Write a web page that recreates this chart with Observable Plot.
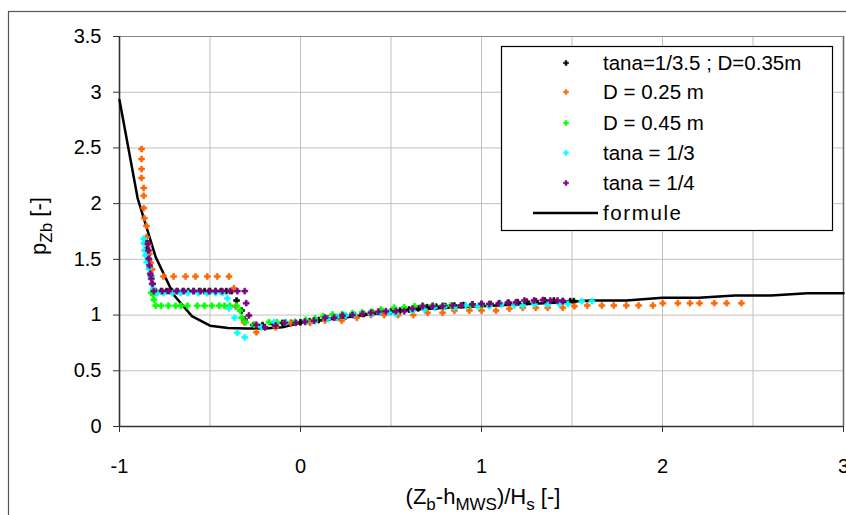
<!DOCTYPE html>
<html><head><meta charset="utf-8">
<script src="https://cdn.jsdelivr.net/npm/d3@7"></script>
<script src="https://cdn.jsdelivr.net/npm/@observablehq/plot@0.6"></script>
<style>
body{margin:0;background:#fff;}
#wrap{position:relative;width:846px;height:515px;overflow:hidden;background:#fff;}
</style></head><body><div id="wrap"></div>
<script>
// ---- data ----
const seriesNames = ["tana=1/3.5 ; D=0.35m", "D = 0.25 m", "D = 0.45 m", "tana = 1/3", "tana = 1/4"];
const seriesColors = ["#000000", "#FF6600", "#00FF00", "#00FFFF", "#800080"];

const black = [[-0.852,1.66],[-0.848,1.60],[-0.843,1.54],[-0.838,1.48],[-0.832,1.42],[-0.826,1.35],[-0.818,1.28],
[-0.80,1.215],[-0.77,1.215],[-0.74,1.215],[-0.71,1.215],[-0.68,1.215],[-0.65,1.215],[-0.62,1.215],[-0.59,1.215],[-0.56,1.215],[-0.53,1.215],[-0.50,1.215],[-0.47,1.215],[-0.44,1.215],[-0.41,1.215],[-0.38,1.215],
[-0.353,1.13],[-0.325,1.04],[-0.31,0.96],[-0.26,0.91],[-0.21,0.91],[-0.15,0.92],[-0.10,0.93],[-0.05,0.93],
[0,0.935],[0.05,0.945],[0.10,0.955],[0.15,0.97],[0.20,0.98],[0.25,0.99],[0.30,1.0],[0.35,1.01],[0.40,1.02],[0.45,1.03],
[0.50,1.035],[0.55,1.04],[0.60,1.05],[0.65,1.06],[0.70,1.07],[0.75,1.075],[0.80,1.08],[0.85,1.085],[0.90,1.09],[0.95,1.095],
[1.00,1.10],[1.05,1.10],[1.10,1.105],[1.15,1.11],[1.20,1.115],[1.25,1.12],[1.30,1.125],[1.35,1.13],[1.40,1.13],[1.45,1.125],[1.49,1.125],[1.51,1.125]];

const orange = [[-0.878,2.49],[-0.878,2.40],[-0.878,2.31],[-0.878,2.23],[-0.866,2.14],[-0.866,2.07],[-0.866,1.96],[-0.863,1.87],[-0.851,1.80],[-0.851,1.70],[-0.84,1.63],[-0.835,1.55],[-0.828,1.47],[-0.82,1.41],
[-0.757,1.347],[-0.701,1.347],[-0.635,1.347],[-0.58,1.347],[-0.515,1.347],[-0.46,1.347],[-0.395,1.347],
[-0.368,1.24],[-0.358,1.077],[-0.312,0.936],[-0.244,0.846],[-0.137,0.89],[-0.054,0.93],[0.053,0.93],[0.136,0.95],[0.228,0.95],[0.311,0.976],[0.389,1.0],[0.462,1.0],[0.54,1.0],[0.623,1.0],[0.702,1.02],[0.785,1.02],[0.85,1.04],[0.933,1.04],[1.0,1.04],[1.08,1.04],[1.154,1.056],[1.228,1.066],[1.30,1.066],[1.366,1.066],[1.449,1.066],[1.513,1.08],[1.584,1.086],[1.665,1.086],[1.731,1.086],[1.80,1.086],[1.868,1.086],[1.947,1.086],[2.002,1.107],[2.085,1.107],[2.152,1.107],[2.205,1.107],[2.286,1.107],[2.354,1.107],[2.436,1.107]];

const green = [[-0.825,1.20],[-0.814,1.185],[-0.81,1.137],[-0.80,1.086],[-0.77,1.083],[-0.73,1.083],[-0.69,1.083],[-0.66,1.083],[-0.625,1.083],[-0.57,1.083],[-0.53,1.083],[-0.49,1.083],[-0.45,1.083],[-0.42,1.083],[-0.39,1.083],[-0.353,1.083],
[-0.334,1.04],[-0.325,0.976],[-0.303,0.936],[-0.257,0.913],[-0.174,0.936],[-0.13,0.936],[-0.082,0.936],[-0.03,0.94],[0.029,0.958],[0.08,0.97],[0.125,0.99],[0.177,1.005],[0.23,1.01],[0.287,1.017],[0.34,1.025],[0.39,1.03],[0.444,1.05],[0.518,1.066],[0.573,1.07],[0.63,1.08],[0.675,1.086],[0.73,1.086],[0.786,1.086],[0.83,1.086],[0.886,1.086],[0.941,1.086],[0.997,1.086],[1.043,1.095]];

const cyan = [[-0.866,1.685],[-0.866,1.645],[-0.862,1.58],[-0.856,1.535],[-0.85,1.475],[-0.838,1.415],[-0.826,1.34],[-0.82,1.28],[-0.815,1.236],
[-0.79,1.197],[-0.758,1.197],[-0.708,1.197],[-0.663,1.197],[-0.622,1.197],[-0.565,1.197],[-0.515,1.197],[-0.469,1.197],[-0.432,1.197],
[-0.404,1.15],[-0.395,1.06],[-0.364,0.976],[-0.349,0.84],[-0.308,0.80],[-0.216,0.89],[-0.146,0.936],[-0.082,0.936],[0.029,0.936],[0.08,0.945],[0.15,0.965],[0.2,0.98],[0.25,0.996],[0.296,1.0],[0.389,1.01],[0.435,1.02],[0.49,1.02],[0.527,1.01],[0.619,1.04],[0.684,1.05],[0.739,1.066],[0.794,1.07],[0.85,1.066],[0.914,1.086],[0.979,1.08],[1.043,1.08],[1.108,1.095],[1.181,1.086],[1.228,1.086],[1.292,1.095],[1.366,1.095],[1.43,1.10],[1.477,1.10],[1.554,1.125],[1.61,1.125]];

const purple = [[-0.843,1.64],[-0.840,1.58],[-0.838,1.505],[-0.834,1.445],[-0.83,1.37],[-0.824,1.325],[-0.818,1.28],
[-0.81,1.215],[-0.764,1.215],[-0.727,1.215],[-0.685,1.215],[-0.644,1.215],[-0.592,1.215],[-0.552,1.215],[-0.506,1.215],[-0.469,1.215],[-0.432,1.215],[-0.39,1.215],[-0.349,1.215],[-0.308,1.215],
[-0.30,1.107],[-0.285,0.996],[-0.244,0.913],[-0.196,0.89],[-0.137,0.906],[-0.087,0.93],[-0.026,0.93],[0.025,0.94],[0.075,0.95],[0.136,0.976],[0.186,0.976],[0.232,0.996],[0.287,1.0],[0.343,1.01],[0.389,1.02],[0.43,1.03],[0.472,1.035],[0.527,1.035],[0.573,1.035],[0.619,1.056],[0.675,1.08],[0.73,1.08],[0.785,1.08],[0.84,1.085],[0.887,1.086],[0.95,1.095],[1.0,1.10],[1.043,1.10],[1.095,1.105],[1.145,1.11],[1.19,1.115],[1.237,1.13],[1.29,1.13],[1.339,1.135],[1.38,1.13],[1.42,1.13],[1.449,1.125]];

const formulaX = [-1,-0.9,-0.8,-0.7,-0.6,-0.5,-0.4,-0.3,-0.2,-0.1,0,0.2,0.4,0.6,0.8,1.0,1.2,1.4,1.6,1.8,2.0,2.2,2.4,2.6,2.8,3.0];
const formulaY = [2.93,2.05,1.52,1.18,0.99,0.905,0.885,0.88,0.88,0.89,0.93,0.97,1.01,1.045,1.065,1.08,1.095,1.11,1.13,1.13,1.155,1.155,1.175,1.175,1.195,1.195];

const xTicks = [-1, 0, 1, 2, 3];
const yTicks = [0, 0.5, 1, 1.5, 2, 2.5, 3, 3.5];
const xGrid = [-0.5, 0, 0.5, 1, 1.5, 2, 2.5];
const yGrid = [0.5, 1, 1.5, 2, 2.5, 3];

// ---- build tables ----
const allSeries = [black, orange, green, cyan, purple];
const points = [];
allSeries.forEach((s, i) => s.forEach(([x, y]) => points.push({x, y, series: seriesNames[i]})));
const formula = formulaX.map((x, i) => ({x, y: formulaY[i]}));

const FONT = "'Liberation Sans', Arial, sans-serif";

const chart = Plot.plot({
  width: 846, height: 515,
  marginLeft: 119, marginRight: 3, marginTop: 36, marginBottom: 89,
  style: {fontSize: "20px", fontFamily: FONT, color: "#000", background: "#fff"},
  x: {domain: [-1, 3]},
  y: {domain: [0, 3.5]},
  color: {domain: seriesNames, range: seriesColors},
  marks: [
    Plot.gridX(xGrid, {stroke: "#c0c0c0", strokeOpacity: 1, strokeWidth: 1}),
    Plot.gridY(yGrid, {stroke: "#c0c0c0", strokeOpacity: 1, strokeWidth: 1}),
    Plot.ruleY([3.5], {stroke: "#888", strokeWidth: 1.2}),
    Plot.ruleX([3], {stroke: "#666", strokeWidth: 1.5}),
    Plot.axisX(xTicks, {tickSize: 6, tickPadding: 26, label: null, tickFormat: d => String(d), stroke: "#333"}),
    Plot.axisY(yTicks, {tickSize: 6, tickPadding: 12, label: null, tickFormat: d => String(d), stroke: "#333"}),
    Plot.ruleX([-1], {stroke: "#333", strokeWidth: 1.6}),
    Plot.ruleY([0], {stroke: "#333", strokeWidth: 1.6}),
    Plot.line(formula, {x: "x", y: "y", stroke: "#000", strokeWidth: 2.5}),
    Plot.dot(points, {x: "x", y: "y", fill: "series", stroke: "series", strokeWidth: 0.6, symbol: "cross", r: 2.5})
  ]
});

document.getElementById("wrap").appendChild(chart);

// ---- decorations: frame, axis titles, legend ----
const svg = d3.select(chart);
svg.append("rect").attr("x", 8.5).attr("y", 11.5).attr("width", 900).attr("height", 600)
  .attr("fill", "none").attr("stroke", "#555").attr("stroke-width", 1.2);

// y title
const yt = svg.append("text").attr("transform", "translate(46,226) rotate(-90)")
  .attr("text-anchor", "middle").attr("font-family", FONT).attr("font-size", 22).attr("fill", "#000");
yt.append("tspan").text("p");
yt.append("tspan").attr("font-size", 17).attr("dy", 6).text("Zb");
yt.append("tspan").attr("dy", -6).text(" [-]");

// x title
const xt = svg.append("text").attr("x", 483).attr("y", 504)
  .attr("text-anchor", "middle").attr("font-family", FONT).attr("font-size", 22).attr("fill", "#000");
xt.append("tspan").text("(Z");
xt.append("tspan").attr("font-size", 17).attr("dy", 6).text("b");
xt.append("tspan").attr("dy", -6).text("-h");
xt.append("tspan").attr("font-size", 17).attr("dy", 6).text("MWS");
xt.append("tspan").attr("dy", -6).text(")/H");
xt.append("tspan").attr("font-size", 17).attr("dy", 6).text("s");
xt.append("tspan").attr("dy", -6).text(" [-]");

// legend
const lg = svg.append("g").attr("text-anchor", "start");
lg.append("rect").attr("x", 501.5).attr("y", 46.5).attr("width", 331).attr("height", 184)
  .attr("fill", "#fff").attr("stroke", "#000").attr("stroke-width", 1.2);
const rowY = [63, 92, 123, 153, 183];
seriesNames.forEach((name, i) => {
  lg.append("path").attr("d", d3.symbol(d3.symbolCross, 14)())
    .attr("transform", `translate(566,${rowY[i]})`)
    .attr("fill", seriesColors[i]).attr("stroke", seriesColors[i]).attr("stroke-width", 0.5);
  lg.append("text").attr("x", 603).attr("y", rowY[i]).attr("dy", "0.35em").attr("text-anchor", "start")
    .attr("font-family", FONT).attr("font-size", 20.5).attr("fill", "#000").text(name);
});
lg.append("line").attr("x1", 533).attr("x2", 598).attr("y1", 213).attr("y2", 213)
  .attr("stroke", "#000").attr("stroke-width", 2.5);
lg.append("text").attr("x", 603).attr("y", 213).attr("dy", "0.35em").attr("letter-spacing", "1.6px").attr("text-anchor", "start")
  .attr("font-family", FONT).attr("font-size", 20.5).attr("fill", "#000").text("formule");
</script>
</body></html>
